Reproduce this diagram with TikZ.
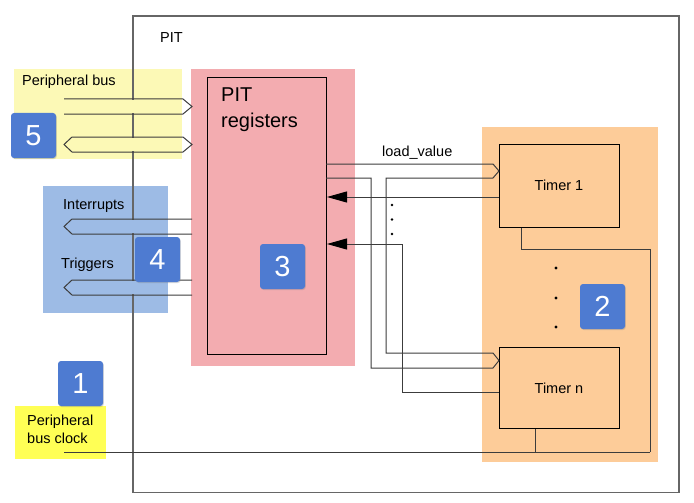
\documentclass[tikz,border=0pt]{standalone}
\usepackage{fontspec}
\setmainfont{Liberation Sans}
\usetikzlibrary{arrows.meta,calc,shadows}

\definecolor{busyellow}{HTML}{FCF9B6}
\definecolor{irqblue}{HTML}{9DBBE5}
\definecolor{regpink}{HTML}{F3ACB0}
\definecolor{timerorange}{HTML}{FDCC99}
\definecolor{clockyellow}{HTML}{FFFF55}
\definecolor{badgeblue}{HTML}{4E7BD1}
\definecolor{wiregray}{HTML}{3C3C3C}

\begin{document}
\begin{tikzpicture}[x=1pt,y=-1pt,
  every node/.style={inner sep=0pt, font=\fontsize{14.5}{18}\selectfont},
  box/.style={draw=black, line width=1pt, minimum width=120pt},
  wire/.style={draw=wiregray, line width=1pt},
  bus/.style={draw=wiregray, line width=1pt, line join=miter},
  back/.style={wire, -{Triangle[length=20pt,width=11pt,color=black]}},
  badge/.style={fill=badgeblue, rounded corners=3pt, minimum size=45pt,
    text=white, font=\fontsize{29}{30}\selectfont,
    drop shadow={opacity=0.3, shadow xshift=0.8pt, shadow yshift=-1pt}},
  label/.style={anchor=base west}]

\useasboundingbox (0,0) rectangle (694,503);

% coloured areas
\fill[busyellow] (14,69) rectangle (182,159);
\fill[irqblue] (43,186) rectangle (168,313);
\fill[regpink] (191,69) rectangle (355,366);
\fill[timerorange] (482,127) rectangle (658,462);
\fill[clockyellow] (15,406) rectangle (106,459);

% PIT module
\draw[draw=gray!80!black, line width=1.1pt] (133,16) rectangle (679,492.7);
\node[label] (pit) at (160,43) {PIT};

% peripheral bus and interrupt/trigger buses
\fill[busyellow] (64,99.6) rectangle (181,113.4);
\fill[busyellow] (72,137.6) rectangle (181,151.4);
\fill[irqblue] (72,219.6) rectangle (167,233.4);
\fill[irqblue] (72,280.6) rectangle (167,294.4);
\draw[bus] (64,99) -- (183,99) -- (192,106.5) -- (183,114) -- (64,114);
\draw[bus] (72,137) -- (183,137) -- (192,144.5) -- (183,152) -- (72,152) -- (64,144.5) -- cycle;
\draw[bus] (192,219) -- (72,219) -- (64,226.5) -- (72,234) -- (192,234);
\draw[bus] (192,280) -- (72,280) -- (64,287.5) -- (72,295) -- (192,295);
\node[label] (busname) at (22,86) {Peripheral bus};
\node[label] (irqname) at (63,209.5) {Interrupts};
\node[label] (trgname) at (61,268) {Triggers};

% registers
\node[box, minimum width=119pt, minimum height=277pt, anchor=north west] (regs) at (207,77) {};
\node[anchor=north west, align=left, font=\fontsize{20}{26}\selectfont] (regname) at (221,87.8) {PIT\\registers};

% timers
\node[box, minimum height=83pt] (timer1) at (559,185.5) {Timer 1};
\node[box, minimum height=80.7pt] (timern) at (559,388.3) {Timer n};

% load_value bus to the timers
\draw[bus] (326,164) -- (493,164) -- (499,171) -- (493,178) -- (386,178) -- (386,353)
  -- (493,353) -- (499,360.5) -- (493,368) -- (371,368) -- (371,178) -- (326,178);
\node[label] (loadname) at (382,156) {load\_value};
\foreach \y in {205,219.5,234}
  \fill (392,\y) circle (1.3);

% outputs back to the registers
\coordinate (turn) at (402,244);
\draw[back] ($(timer1.west)+(0,11.5)$) coordinate (ret1) -- (ret1 -| regs.east);
\draw[back] ($(timern.west)+(0,3.7)$) -| (turn) -- (turn -| regs.east);

% clock and timer chain
\coordinate (clk) at (64,452);
\coordinate (chainend) at (650,452);
\draw[wire] (clk) -- (chainend);
\draw[wire] ($(timer1.south west)+(23,0)$) -- ++(0,22) -| (chainend);
\draw[wire] ($(timern.south west)+(37,0)$) coordinate (tns) -- (tns |- clk);
\foreach \y in {268,298,327}
  \fill (556,\y) circle (1.6);
\node[anchor=north west, align=left] (clkname) at (27,414.6) {Peripheral\\bus clock};

% numbered badges
\node[badge] (badge5) at (33.5,135.5) {5};
\node[badge] (badge4) at (157.5,259.5) {4};
\node[badge] (badge3) at (282.5,266.5) {3};
\node[badge] (badge2) at (602.5,306.5) {2};
\node[badge] (badge1) at (80.5,383.5) {1};
\end{tikzpicture}
\end{document}
